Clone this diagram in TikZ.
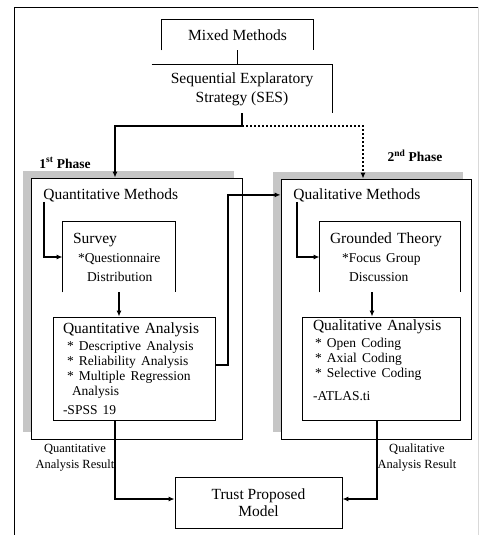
\documentclass[tikz,border=0pt]{standalone}
\usepackage{fontspec}
\setmainfont{Liberation Serif}
\usetikzlibrary{arrows.meta, positioning, shadows}
\newcommand{\bigf}{\fontsize{15.5}{19}\selectfont}
\newcommand{\smallf}{\fontsize{13.5}{15}\selectfont}
\newcommand{\labf}{\fontsize{12.5}{16}\selectfont}
\newcommand{\phf}{\fontsize{13.5}{16}\selectfont\bfseries}

\begin{document}
\begin{tikzpicture}[x=1pt, y=-1pt, >={Latex[length=6pt,width=5pt]}, font=\bigf, line width=0.8pt,
    frame/.style 2 args={minimum width=#1, minimum height=#2, inner sep=0pt},
    panel/.style 2 args={frame={#1}{#2}, draw, fill=white,
      drop shadow={opacity=1, fill=gray!45, shadow xshift=-8pt, shadow yshift=7pt}},
    sub/.style={inner xsep=10pt, inner ysep=0pt, align=left},
    link/.style={line width=2pt},
    title/.style={anchor=base west, inner sep=0pt}]
    \useasboundingbox (0,0) rectangle (480,535);
    \draw (14,535) |- (478,7);
    \draw[gray!30] (478,7) -- (478,535);

    \node[panel={211}{261}] (qnm) at (136.5,308.5) {};
    \node[panel={190}{260}] (qlm) at (376,309) {};

    \node[frame={151}{30}] (mm) at (237.5,35) {Mixed Methods};
    \node[frame={180}{48}, align=center] (ses) at (242,89) {Sequential Explaratory\\Strategy (SES)};
    \draw (mm.south west) |- (mm.north east) -- (mm.south east);
    \draw (ses.north west) -- (ses.north east) -- (ses.south east);
    \draw[line width=1.8pt] (mm.south) -- (mm.south |- ses.north);

    \node[font=\phf] (ph1) at (65,163) {1\textsuperscript{st} Phase};
    \node[font=\phf] (ph2) at (415,156) {2\textsuperscript{nd} Phase};

    \coordinate (split) at ([yshift=-13pt]ses.south);
    \draw[link, ->] (ses.south) -- (split) -| ([xshift=-21.5pt]qnm.north);
    \draw[link, dotted, ->] (split) -| ([xshift=-13pt]qlm.north);

    \node[title] (qnmt) at (43,199) {Quantitative Methods};
    \node[title] (qlmt) at (293,199) {Qualitative Methods};

    \node[sub, text width=92pt, minimum height=70pt] (sv) at (119,257)
      {Survey\\[4pt] \smallf\hspace*{5pt}*Questionnaire\\ \hspace*{14pt}Distribution};
    \draw (sv.south west) |- (sv.north east) -- (sv.south east);
    \node[sub, text width=120pt, minimum height=70pt] (gt) at (390,257)
      {Grounded Theory\\[4pt] \smallf\hspace*{12pt}*Focus Group\\ \hspace*{19pt}Discussion};
    \draw (gt.south west) |- (gt.north east) -- (gt.south east);

    \node[sub, draw, text width=142pt, minimum height=103pt] (qna) at (134,368.5)
      {Quantitative Analysis\\[2pt] \smallf\hspace*{4pt}* Descriptive Analysis\\ \hspace*{4pt}* Reliability Analysis\\
       \hspace*{4pt}* Multiple Regression\\ \hspace*{9pt}Analysis\\ -SPSS 19};
    \node[sub, draw, text width=136pt, inner xsep=11pt, minimum height=103pt] (qla) at (381,368.5)
      {Qualitative Analysis\\[2pt] \smallf\hspace*{2pt}* Open Coding\\ \hspace*{2pt}* Axial Coding\\
       \hspace*{2pt}* Selective Coding\\[4pt] -ATLAS.ti\rule[-17pt]{0pt}{17pt}};

    \draw[link, ->] ([xshift=0.5pt]qnmt.south west) |- (sv.west);
    \draw[link, ->] ([xshift=4pt]qlmt.south west) |- (gt.west);
    \draw[link, ->] (sv.south) -- (sv.south |- qna.north);
    \draw[link, ->] ([xshift=-18pt]gt.south) -- ([xshift=-18pt]gt.south |- qla.north);
    \draw[link, ->] ([yshift=3.5pt]qna.east) -- ++(13,0) |- (qlm.west |- qlmt.west);

    \node[frame={167}{51}, draw, align=center] (tpm) at (258.5,502.5) {Trust Proposed\\[-2pt]Model};
    \node[font=\labf, align=center] (qnr) at (75,458) {Quantitative\\Analysis Result};
    \node[font=\labf, align=center] (qlr) at (417,458) {Qualitative\\Analysis Result};

    \draw[link, ->] ([xshift=-19pt]qna.south) |- ([yshift=3.5pt]tpm.west);
    \draw[link, ->] ([xshift=-4pt]qla.south) |- ([yshift=3.5pt]tpm.east);
\end{tikzpicture}
\end{document}
